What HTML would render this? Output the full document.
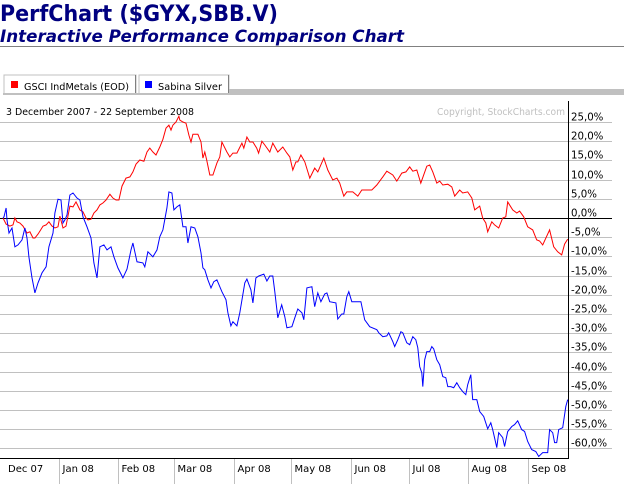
<!DOCTYPE html>
<html><head><meta charset="utf-8"><style>
html,body{margin:0;padding:0;background:#fff;}
svg{display:block;font-family:"DejaVu Sans","Liberation Sans",sans-serif;}
</style></head><body>
<svg width="624" height="484" viewBox="0 0 624 484">
<text x="0" y="21" font-size="22" font-weight="bold" fill="#000080" textLength="278" lengthAdjust="spacingAndGlyphs">PerfChart ($GYX,SBB.V)</text>
<text x="0" y="42" font-size="17" font-weight="bold" font-style="italic" fill="#000080" textLength="404" lengthAdjust="spacingAndGlyphs">Interactive Performance Comparison Chart</text>
<rect x="0" y="46" width="624" height="1" fill="#808080"/>
<g>
<g>
<rect x="4" y="75" width="132" height="19" fill="#fff" stroke="#c0c0c0"/>
<rect x="135" y="75" width="1" height="19" fill="#808080"/>
<rect x="11" y="81" width="7" height="7" fill="#f00"/>
<text x="24" y="90" font-size="10" fill="#000" textLength="105" lengthAdjust="spacingAndGlyphs">GSCI IndMetals (EOD)</text>
</g>
<g>
<rect x="139" y="75" width="90" height="19" fill="#fff" stroke="#c0c0c0"/>
<rect x="228" y="75" width="1" height="19" fill="#808080"/>
<rect x="145" y="81" width="7" height="7" fill="#00f"/>
<text x="158" y="90" font-size="10" fill="#000" textLength="64" lengthAdjust="spacingAndGlyphs">Sabina Silver</text>
</g>
<rect x="229" y="89" width="395" height="6" fill="#c0c0c0"/>
<rect x="3" y="93" width="227" height="2" fill="#c0c0c0"/>
</g>
<text x="6" y="115" font-size="10" fill="#000" textLength="188" lengthAdjust="spacingAndGlyphs">3 December 2007 - 22 September 2008</text>
<text x="437" y="115" font-size="10" fill="#c0c0c0" textLength="128" lengthAdjust="spacingAndGlyphs">Copyright, StockCharts.com</text>
<g id="grid"></g>
<g id="series"></g>
<g id="axes"></g>
</svg>
<script>
const yTicks=[25,20,15,10,5,0,-5,-10,-15,-20,-25,-30,-35,-40,-45,-50,-55,-60];
const monthLabels=["Dec 07","Jan 08","Feb 08","Mar 08","Apr 08","May 08","Jun 08","Jul 08","Aug 08","Sep 08"];
const monthDays=[0,29,60,89,120,150,181,211,242,273];
const gsciDays=[0,1.6,3.6,5.2,6.2,7.3,8.8,10.4,12.5,14,15.6,16.6,18.2,19.2,20.8,22.4,23.9,25.5,27,28.6,29.6,31.2,32.8,34.8,36.4,38,40,41.6,43.2,44.2,45.8,47.3,48.9,50.4,52,53.6,55.6,57.2,58.8,60.3,61.9,64,66,67.6,69.2,71.2,73.3,74.9,76.4,78,79.6,81.6,83.2,84.8,86.3,87.4,88.4,90,91.5,92,93.6,95.2,96.7,97.8,98.8,101.4,103,104,105,106,107.6,109.2,111.3,112.8,113.9,116.5,118,119.6,121.7,124.3,125.3,126.9,128.4,130,132,133,134.7,136.2,138.8,140.4,143,145.6,147.7,149.2,150.8,152.4,153.4,155,157,159.6,162.2,163.8,166.9,169,171.6,173.7,175.2,177.3,178.9,182,184.6,186.7,191.9,194.5,197.6,199.7,202.8,204.9,207.5,209.6,211.6,213.2,215.3,217.4,220.5,222,223.6,225.7,227.2,228.8,231.4,233.5,235,237.6,239.2,241.8,243.9,245.4,248,249.6,251.2,252.2,254.3,255.8,257.9,260,261.6,262.6,265.2,267.3,268.8,270.9,273,275.6,277.7,279.2,280.8,284.4,286.5,288.6,290.7,292.2,293.8];
const gsciPct=[0,-1.6,-2.1,-1.8,0,-1.0,-1.3,-2.1,-3.9,-3.6,-5.2,-5.2,-4.2,-3.4,-2.1,-1.8,-1.0,-2.1,-2.6,-2.3,0.5,-2.6,-2.1,3.1,2.9,4.2,2.1,1.6,0,-0.5,-0.3,1.3,2.1,3.4,3.9,4.7,6.2,5.2,4.7,4.7,8.3,10.4,10.7,12,14,15.1,14.8,17.2,18.2,17.2,16.4,18.5,20.5,23.4,24.2,22.9,24.2,25,26.5,25.5,25,24.7,21.6,19.8,21.8,21.8,19.8,15.6,17.2,15.1,11.2,11.2,14.3,15.9,19.8,17.2,15.9,16.9,16.9,19.5,18.2,21.1,19.8,19.8,18.2,16.9,20,19,17.2,19.5,17.2,18.5,16.9,15.9,12.5,14.6,14.6,16.4,14.6,10.4,13,12,15.6,12.5,9.9,10.4,9.1,5.7,6.8,6.8,5.7,7.3,7.3,8.6,10.7,12.2,11.2,9.6,11.7,12,13.3,12.2,12.5,9.1,13.5,13.8,12,9.1,9.6,8.6,8.8,8.1,5.7,7.3,6.5,6.8,5.2,2.1,3.1,0,-1.3,-3.6,-1.0,-1.8,-2.6,0,0.3,4.2,2.1,1.3,1.8,0.3,-2.3,-3.1,-5.7,-6.0,-7.0,-3.1,-7.5,-8.8,-9.6,-6.8,-5.5];
const sabinaDays=[0,0.5,1.6,2.1,3.1,4.7,6.2,7.8,9.9,11.4,12.5,13.5,15.1,16.6,18.2,20.3,22.4,23.9,26,27,28.6,30.2,31.2,32.2,33.3,34.8,36.4,38.5,40,41.6,43.7,45.8,47.3,48.9,50.4,52.5,54.1,56.2,57.7,59.8,62.4,64.5,66.6,67.6,69.7,72.8,73.8,75.4,78,80.1,81.6,83.2,85.3,86.3,87.9,88.9,90.5,92,93.6,95.2,96.2,97.8,99.8,101.4,103,104,105,106.6,108.2,109.7,111.3,113.9,116,117,118.6,119.6,121.7,123.2,125.8,126.9,129,130,131.6,133.1,135.7,137.3,138.8,140.4,141.4,143,145,146.6,147.7,150.3,151.8,153.4,155.5,156.5,158.1,160.7,162.2,163.8,165.4,167.4,168.5,170,173.2,174.2,176.3,177.3,178.9,179.9,181.5,186.2,188.2,190.8,194.5,195.5,197.6,199.7,200.7,202.8,203.8,205.4,207,208,210.1,211.6,213.2,214.8,215.8,216.8,217.9,218.4,219.4,220.5,222,223.1,224.1,225.7,227.2,228.8,230.4,231.4,233,234.5,236.1,237.6,239.2,240.8,241.8,243.4,244.4,246.5,248,250.1,252.2,253.8,254.8,256.9,257.9,260,261,262.6,264.7,266.2,267.8,269.9,271.4,273,275.1,277.2,278.7,280.8,283.4,284.4,286,287,288.1,289.1,291.2,292.8,293.8];
const sabinaPct=[0,0.3,2.6,-0.5,-3.9,-2.6,-7.5,-7.0,-5.7,-2.6,-5.2,-10.1,-15.6,-19.5,-16.9,-14.3,-12.7,-7.5,-3.9,1.3,4.9,4.7,-1.3,-0.5,0.8,6.0,6.5,5.2,4.7,0.3,-2.3,-5.2,-11.7,-15.6,-7.5,-7.0,-8.3,-7.5,-10.1,-13,-15.6,-13.3,-8.3,-6.5,-11.4,-11.7,-12.7,-8.8,-10.1,-8.3,-4.9,-3.1,2.6,6.8,6.5,2.1,2.9,3.4,-2.3,-2.3,-6.5,-2.3,-2.6,-4.9,-9.1,-13,-13.5,-16.1,-18.2,-16.6,-16.1,-19.2,-21.3,-24.7,-28.1,-27,-28.1,-24.7,-16.9,-15.9,-18.7,-22.1,-15.6,-15.1,-14.6,-16.4,-15.1,-15.1,-19.2,-26,-22.6,-25.7,-28.6,-28.3,-26,-23.7,-24.7,-26.5,-18.2,-17.9,-23.1,-19.5,-21.8,-19.8,-19.5,-21.8,-22.1,-26.3,-25,-25,-20.5,-19.2,-21.8,-21.8,-26.5,-28.3,-29.1,-29.9,-30.9,-30.7,-29.9,-32.2,-33.5,-31.7,-29.6,-29.9,-32.5,-33,-30.9,-31.7,-33.8,-38.7,-40.3,-43.9,-36.9,-34.8,-34.8,-33.5,-34.1,-36.9,-38.2,-41.3,-41.6,-43.9,-43.9,-44.2,-42.9,-44.2,-45.2,-46,-43.4,-40.8,-47.3,-47.3,-50.4,-51.7,-54.9,-53.3,-55.1,-59.8,-55.9,-57.2,-59.5,-55.6,-54.3,-53.8,-52.8,-55.1,-55.6,-58.2,-60.3,-60.8,-62.1,-61.1,-61.1,-55.1,-55.9,-58.5,-58.5,-55.1,-54.6,-49.1,-47.3];

const NS='http://www.w3.org/2000/svg';
function xScale(d){return 3+d*1.922;}
function yScale(p){return 218-p*3.84;}
function mk(tag,attrs,parent){const e=document.createElementNS(NS,tag);for(const k in attrs)e.setAttribute(k,attrs[k]);parent.appendChild(e);return e;}
const grid=document.getElementById('grid'),series=document.getElementById('series'),axes=document.getElementById('axes');
yTicks.forEach(t=>{
  const y=Math.round(yScale(t))+0.5;
  const l=mk('line',{x1:0,x2:t===0?568:612,y1:y,y2:y,stroke:t===0?'#000':'#c0c0c0','stroke-width':1},grid);
  
  
  const tx=mk('text',{x:571,y:y-2,'font-size':10.2,fill:'#000'},axes);
  tx.textContent=t.toFixed(1).replace('.',',')+'%';
  
  
});
const z=mk('line',{x1:568,x2:612,y1:Math.round(yScale(0))+0.5,y2:Math.round(yScale(0))+0.5,stroke:'#000'},grid);


function drawLine(days,vals,color,name){
  const pts=days.map((d,i)=>xScale(d).toFixed(1)+','+yScale(vals[i]).toFixed(1)).join(' ');
  const p=mk('polyline',{points:pts,fill:'none',stroke:color,'stroke-width':1,'stroke-linejoin':'miter'},series);
  
  
}
drawLine(gsciDays,gsciPct,'#f00','gsci-line');
drawLine(sabinaDays,sabinaPct,'#00f','sabina-line');
const ax=mk('line',{x1:568.5,x2:568.5,y1:101,y2:458,stroke:'#000'},axes);


const bx=mk('line',{x1:0,x2:569,y1:458.5,y2:458.5,stroke:'#000'},axes);


monthDays.forEach((d,i)=>{
  const x=Math.round(xScale(d))+0.5;
  if(i>0){
    const t=mk('line',{x1:x,x2:x,y1:459,y2:484,stroke:'#c0c0c0'},axes);
    
    
  }
  const tx=mk('text',{x:(i===0?8:x+3),y:472,'font-size':10,fill:'#000'},axes);
  tx.textContent=monthLabels[i];
  
  
});
</script>
</body></html>
